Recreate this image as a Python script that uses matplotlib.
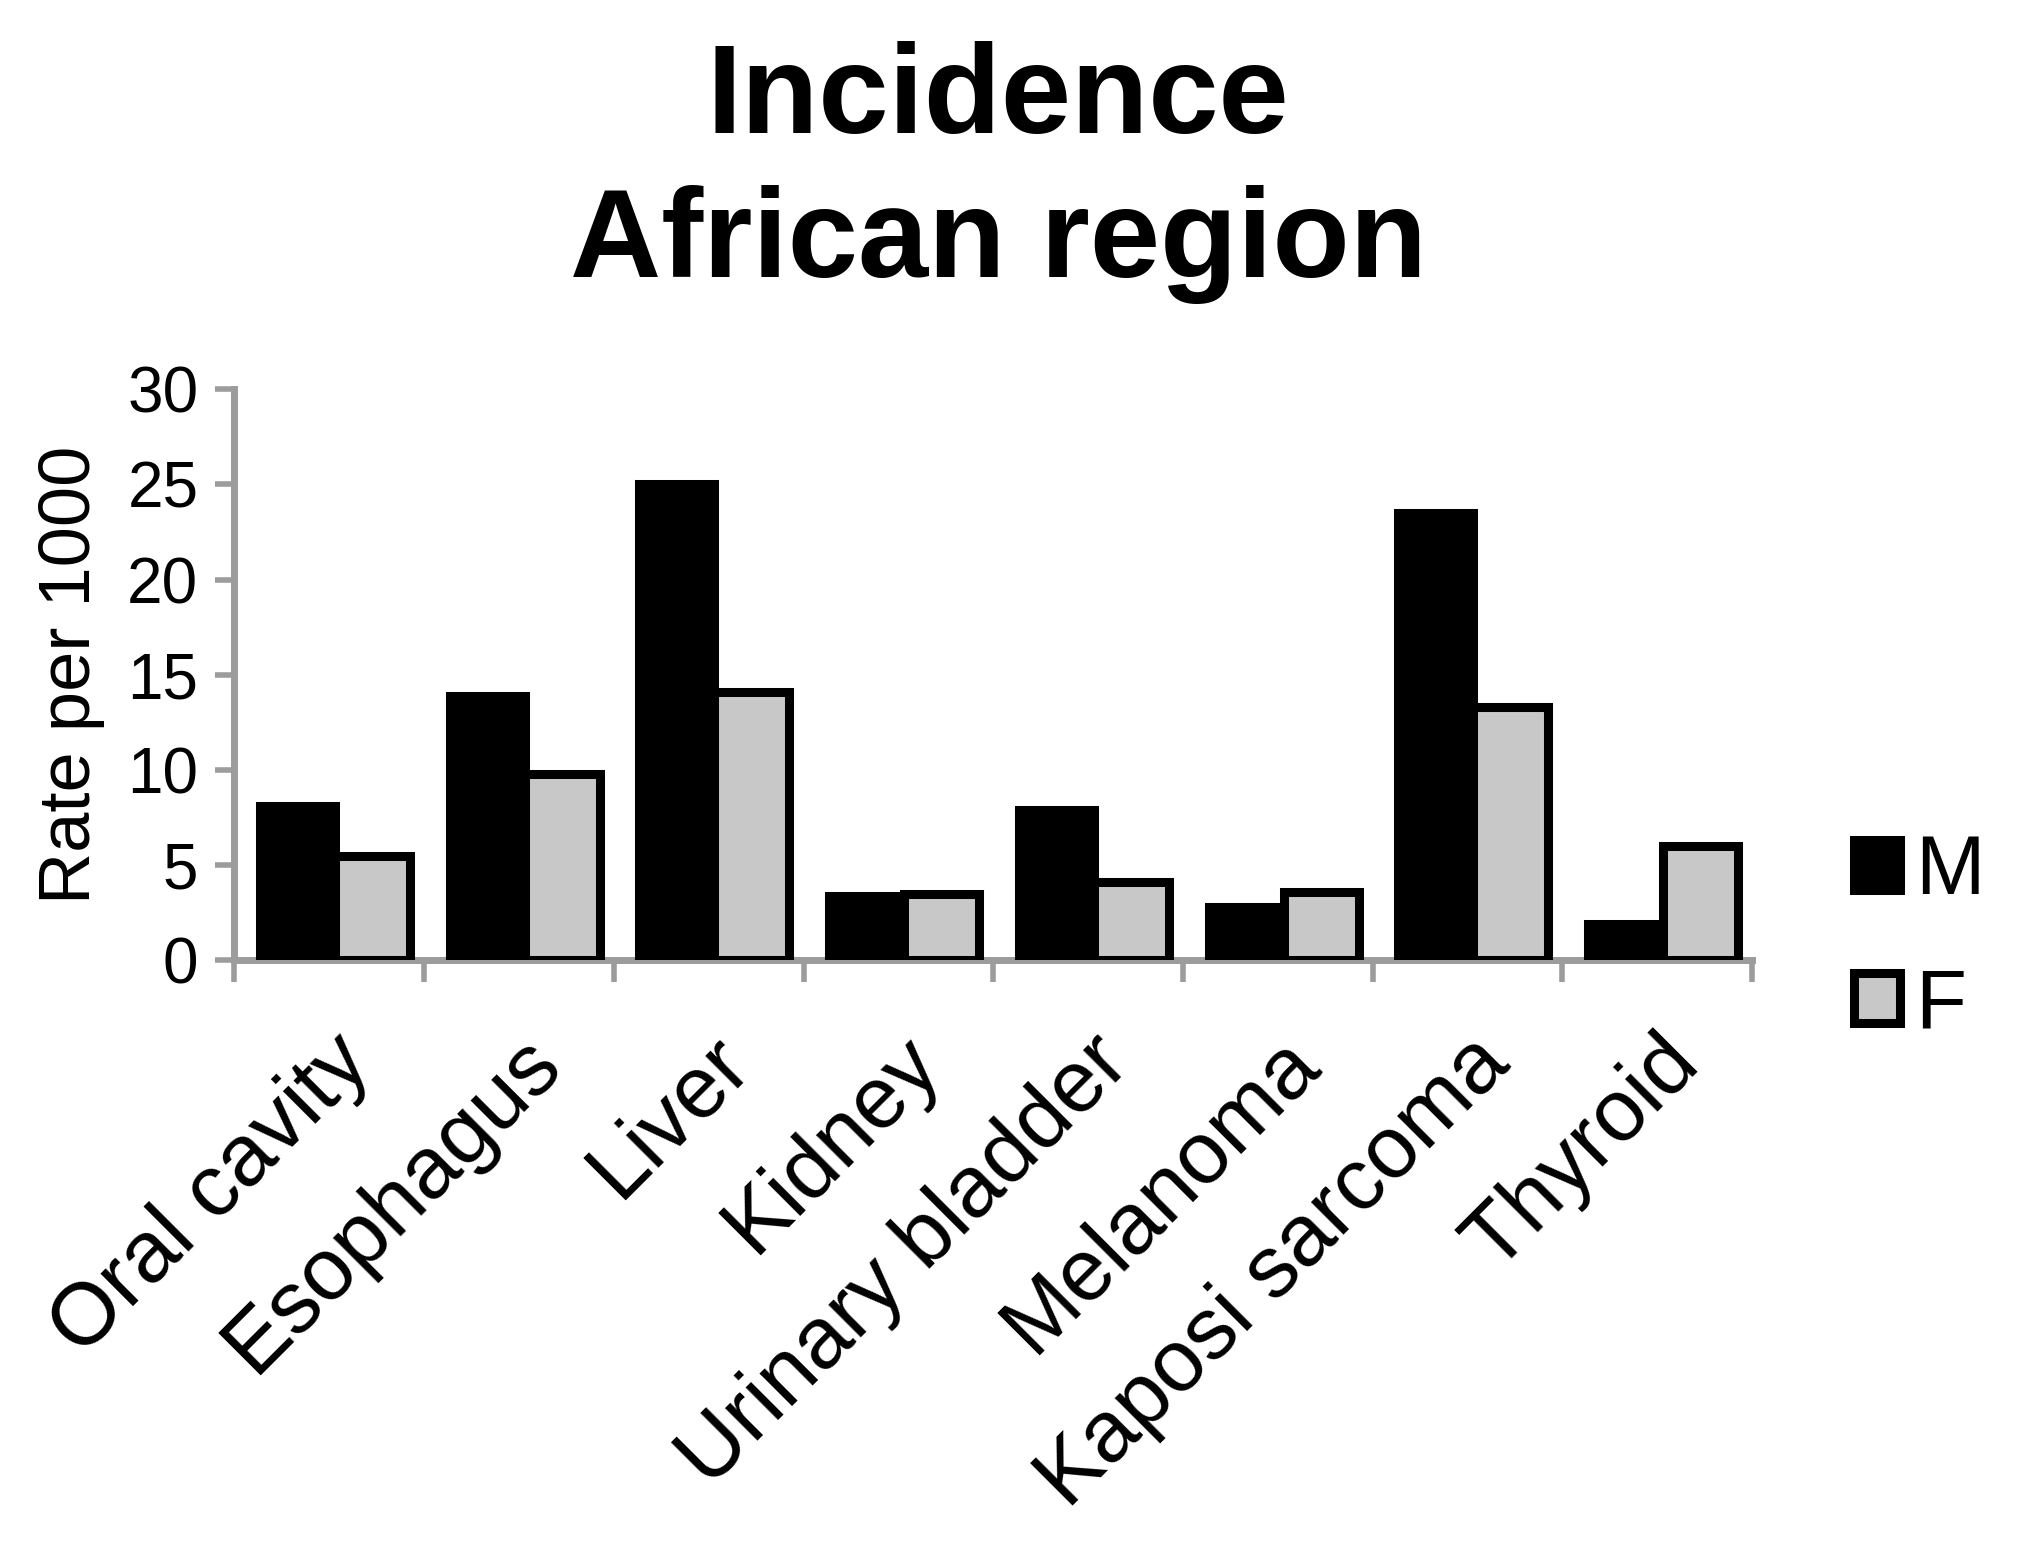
import numpy as np
import matplotlib.pyplot as plt
from matplotlib.patches import Patch

plt.rcParams['font.family'] = ['Liberation Sans', 'DejaVu Sans']

sites = ['Oral cavity', 'Esophagus', 'Liver', 'Kidney', 'Urinary bladder',
         'Melanoma', 'Kaposi sarcoma', 'Thyroid']
male = [8.1, 13.9, 25.0, 3.4, 7.9, 2.8, 23.5, 1.9]
female = [5.5, 9.8, 14.1, 3.5, 4.1, 3.6, 13.3, 6.0]
yticks = [0, 5, 10, 15, 20, 25, 30]

axis_grey = '#9c9c9c'
edge_w = 6.5
bar_w = 0.395

fig = plt.figure(figsize=(20.21, 15.44), dpi=100)
ax = fig.add_axes([0.116, 0.378, 0.751, 0.37])

x = np.arange(len(sites))
ax.bar(x - bar_w / 2 + 0.03, male, bar_w, color='black', edgecolor='black',
       linewidth=edge_w, label='M')
ax.bar(x + bar_w / 2 + 0.03, female, bar_w, color='#c8c8c8', edgecolor='black',
       linewidth=edge_w, label='F')

ax.set_xlim(-0.5, len(sites) - 0.5)
ax.set_ylim(0, 30)
ax.set_yticks(yticks)
ax.tick_params(axis='y', labelsize=46, length=14, width=4, color=axis_grey,
               direction='out', pad=12)

# category labels at the centres, tick marks between groups
ax.set_xticks(x)
ax.set_xticklabels(sites, rotation=45, ha='right', rotation_mode='anchor',
                   fontsize=63)
ax.tick_params(axis='x', which='major', length=0, pad=44)
ax.set_xticks(np.arange(len(sites) + 1) - 0.5, minor=True)
ax.tick_params(axis='x', which='minor', length=16, width=4, color=axis_grey,
               direction='out')

for side in ['top', 'right']:
    ax.spines[side].set_visible(False)
for side in ['left', 'bottom']:
    ax.spines[side].set_color(axis_grey)
    ax.spines[side].set_linewidth(5)
ax.spines['bottom'].set_zorder(0)

ax.set_ylabel('Rate per 1000', fontsize=52, labelpad=16)

handles = [Patch(facecolor='black', edgecolor='black', linewidth=edge_w),
           Patch(facecolor='#c8c8c8', edgecolor='black', linewidth=edge_w)]
fig.legend(handles, ['M', 'F'], loc='center left',
           bbox_to_anchor=(0.9175, 0.392), frameon=False, fontsize=60,
           handlelength=0.55, handleheight=0.55, handletextpad=0.18,
           labelspacing=0.66, borderaxespad=0, borderpad=0)

fig.text(0.494, 1 - 133 / 1544, 'Incidence', ha='center', va='baseline',
         fontsize=91, fontweight='bold')
fig.text(0.494, 1 - 277 / 1544, 'African region', ha='center', va='baseline',
         fontsize=91, fontweight='bold')

fig.savefig('out.png', dpi=100, facecolor='white')
